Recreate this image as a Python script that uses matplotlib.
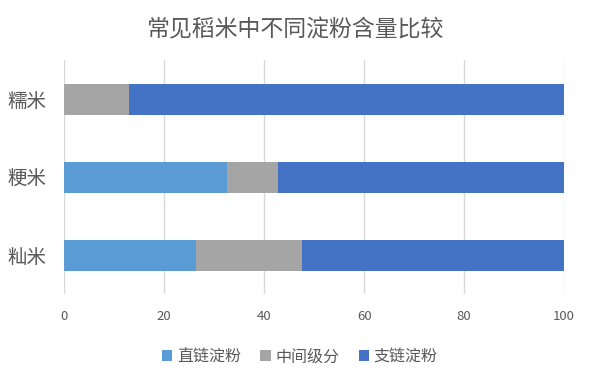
import matplotlib.pyplot as plt
import numpy as np

plt.rcParams['font.family'] = ['Noto Sans CJK SC', 'DejaVu Sans']

# 数据
categories = ['籼米', '粳米', '糯米']
amylose = [26.3, 32.5, 0]          # 直链淀粉
intermediate = [21.2, 10.2, 12.9]  # 中间级分
amylopectin = [52.5, 57.3, 87.1]   # 支链淀粉
series_names = ['直链淀粉', '中间级分', '支链淀粉']
colors = ['#5B9BD5', '#A5A5A5', '#4472C4']

fig = plt.figure(figsize=(5.95, 3.71), dpi=100)
ax = fig.add_axes([0.108, 0.2067, 0.84, 0.631])

y = np.arange(len(categories))
left = np.zeros(len(categories))
for vals, name, c in zip([amylose, intermediate, amylopectin], series_names, colors):
    ax.barh(y, vals, left=left, height=0.394, color=c, label=name, zorder=3)
    left += np.array(vals)

ax.set_xlim(0, 100)
ax.set_ylim(-0.5, 2.5)
ax.set_xticks([0, 20, 40, 60, 80, 100])
ax.set_yticks(y)
ax.set_yticklabels(categories, fontsize=14, color='#595959')
ax.tick_params(axis='x', labelsize=9.5, colors='#595959', length=0, pad=11)
ax.tick_params(axis='y', length=0, pad=13)
ax.grid(axis='x', color='#D9D9D9', linewidth=1, zorder=0)
for s in ax.spines.values():
    s.set_visible(False)

fig.suptitle('常见稻米中不同淀粉含量比较', fontsize=16.5, color='#595959', x=0.495, y=0.95)

fig.legend(loc='center', bbox_to_anchor=(0.504, 0.038), ncol=3, frameon=False,
           fontsize=11.5, labelcolor='#595959', handlelength=0.65, handleheight=0.65,
           handletextpad=0.3, columnspacing=1.2)

plt.savefig('out.png', dpi=100)
